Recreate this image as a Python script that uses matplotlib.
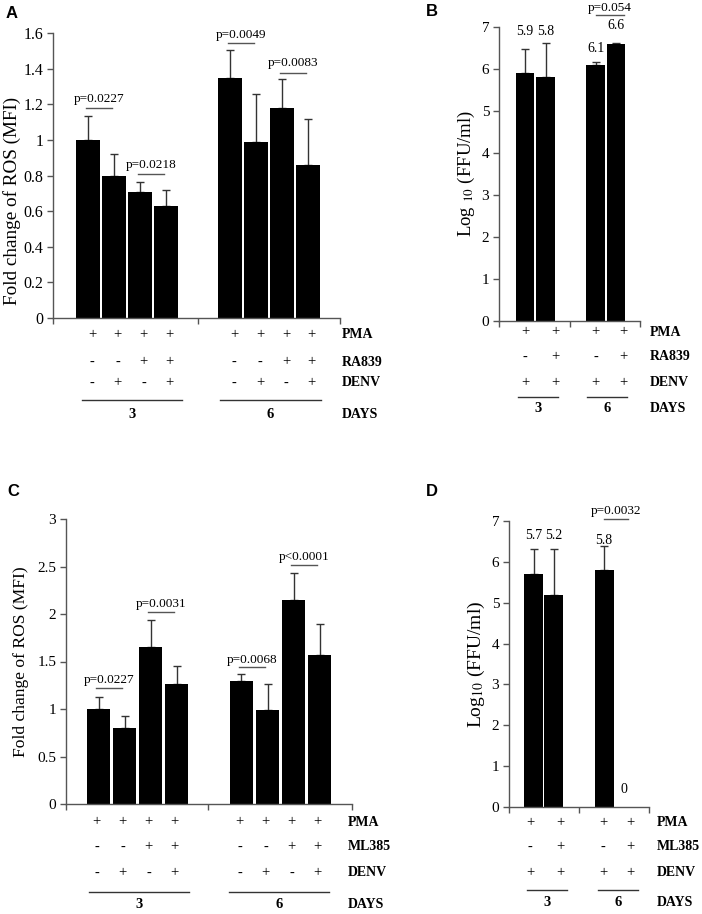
import matplotlib
matplotlib.use("Agg")
import matplotlib.pyplot as plt
from matplotlib.transforms import blended_transform_factory

W, H = 702, 914

plt.rcParams['font.family'] = ['Liberation Serif', 'DejaVu Serif']
plt.rcParams['mathtext.fontset'] = 'stix'

# ---------------- data ----------------
# A: ROS fold change, PMA / RA839 / DENV
ros_ra = [1.00, 0.80, 0.71, 0.63, 1.35, 0.99, 1.18, 0.86]
ros_ra_err = [0.135, 0.12, 0.055, 0.09, 0.155, 0.27, 0.16, 0.26]
ros_ra_p = ["p=0.0227", "p=0.0218", "p=0.0049", "p=0.0083"]
ros_ra_pairs = [(0, 1), (2, 3), (4, 5), (6, 7)]

# B: virus titre, RA839
titre_ra = [5.9, 5.8, 6.1, 6.6]
titre_ra_err = [0.58, 0.83, 0.07, 0.02]
titre_ra_labels = ["5.9", "5.8", "6.1", "6.6"]
titre_ra_p = ["p=0.054"]
titre_ra_pairs = [(2, 3)]

# C: ROS fold change, PMA / ML385 / DENV
ros_ml = [1.00, 0.80, 1.65, 1.26, 1.30, 0.99, 2.15, 1.57]
ros_ml_err = [0.13, 0.125, 0.29, 0.19, 0.07, 0.27, 0.28, 0.33]
ros_ml_p = ["p=0.0227", "p=0.0031", "p=0.0068", "p<0.0001"]
ros_ml_pairs = [(0, 1), (2, 3), (4, 5), (6, 7)]

# D: virus titre, ML385
titre_ml = [5.7, 5.2, 5.8, 0.0]
titre_ml_err = [0.61, 1.11, 0.59, 0.0]
titre_ml_labels = ["5.7", "5.2", "5.8", "0"]
titre_ml_p = ["p=0.0032"]
titre_ml_pairs = [(2, 3)]

# treatment tables
pma_4 = ["+", "+", "+", "+", "+", "+", "+", "+"]
drug_4 = ["-", "-", "+", "+", "-", "-", "+", "+"]
denv_4 = ["-", "+", "-", "+", "-", "+", "-", "+"]
pma_2 = ["+", "+", "+", "+"]
drug_2 = ["-", "+", "-", "+"]
denv_2 = ["+", "+", "+", "+"]
days = ["3", "6"]

fig = plt.figure(figsize=(W / 100, H / 100), dpi=100)


def px_rect(l, r, t, b):
    return [l / W, 1 - b / H, (r - l) / W, (b - t) / H]


def fig_y(py):
    return 1 - py / H


def make_axes(box, xlim, mid, ylim, yticks, tick_size):
    ax = fig.add_axes(px_rect(*box))
    for s in ("top", "right"):
        ax.spines[s].set_visible(False)
    for s in ("left", "bottom"):
        ax.spines[s].set_color("#555555")
        ax.spines[s].set_linewidth(1)
    ax.set_xlim(*xlim)
    ax.set_ylim(*ylim)
    ax.set_xticks([xlim[0], mid, xlim[1]])
    ax.set_xticklabels([])
    ax.set_yticks(yticks)
    ax.set_yticklabels(["%g" % round(v, 2) for v in yticks])
    ax.tick_params(direction="out", length=4, width=1, color="#555555",
                   labelsize=tick_size, pad=3)
    return ax


def draw_bars(ax, pos, vals, errs, width):
    ax.bar(pos, vals, width, color="black", zorder=2)
    # no error bar where there is nothing to show (e.g. titre of 0)
    keep = [k for k, e in enumerate(errs) if e > 0]
    ax.errorbar([pos[k] for k in keep], [vals[k] for k in keep],
                yerr=[[0] * len(keep), [errs[k] for k in keep]], fmt="none",
                ecolor="#333333", elinewidth=1, capsize=3, capthick=1, zorder=1)


def draw_pvals(ax, pos, pairs, texts, line_y, text_y, dx0, dx1):
    for (i, j), t, ly, ty in zip(pairs, texts, line_y, text_y):
        x0, x1 = pos[i] + dx0, pos[j] + dx1
        ax.plot([x0, x1], [ly, ly], color="#555555", lw=1, clip_on=False)
        ax.text((x0 + x1) / 2, ty, t, ha="center", va="center", fontsize=9.5,
                clip_on=False)


def draw_table(ax, cols, rows, names, row_py, label_x, centers, half,
               line_py, days_py):
    tdata = blended_transform_factory(ax.transData, fig.transFigure)
    taxes = blended_transform_factory(ax.transAxes, fig.transFigure)
    for signs, name, py in zip(rows, names, row_py):
        for x, s in zip(cols, signs):
            ax.text(x, fig_y(py), s, transform=tdata, ha="center", va="center",
                    fontsize=10.5)
        ax.text(label_x, fig_y(py), name, transform=taxes, ha="left",
                va="center", fontsize=10, fontweight="bold")
    for c, d in zip(centers, days):
        ax.plot([c - half, c + half], [fig_y(line_py)] * 2, transform=tdata,
                color="#333333", lw=1, clip_on=False)
        ax.text(c, fig_y(days_py), d, transform=tdata, ha="center", va="center",
                fontsize=10.5, fontweight="bold")
    ax.text(label_x, fig_y(days_py), "DAYS", transform=taxes, ha="left",
            va="center", fontsize=10, fontweight="bold")


def panel_letter(px, py, s):
    fig.text(px / W, fig_y(py), s, ha="center", va="center", fontsize=12,
             fontweight="bold", family="Liberation Sans")


# ---------------- panel A ----------------
pos8 = [0, 1, 2, 3, 5.5, 6.5, 7.5, 8.5]
axA = make_axes((53, 340, 33, 318), (-1.36, 9.74), 4.26, (0, 1.6),
                [0, 0.2, 0.4, 0.6, 0.8, 1.0, 1.2, 1.4, 1.6], 11.5)
draw_bars(axA, pos8, ros_ra, ros_ra_err, 0.92)
draw_pvals(axA, pos8, ros_ra_pairs, ros_ra_p, [1.18, 0.81, 1.545, 1.373],
           [1.23, 0.86, 1.59, 1.43], -0.08, -0.08)
axA.set_ylabel("Fold change of ROS (MFI)", fontsize=13.8, va="center")
axA.yaxis.set_label_coords(-0.143, 0.41)
draw_table(axA, [p + 0.15 for p in pos8], [pma_4, drug_4, denv_4],
           ["PMA", "RA839", "DENV"], [335, 362, 383], 1.007, [1.7, 7.05],
           1.94, 400, 414)
panel_letter(12, 14, "A")

# ---------------- panel B ----------------
pos4B = [0, 1, 3.44, 4.44]
axB = make_axes((499, 640, 27, 321), (-1.27, 5.61), 2.2, (0, 7), range(8), 11)
draw_bars(axB, pos4B, titre_ra, titre_ra_err, 0.9)
for x, lab, y in zip(pos4B, titre_ra_labels, [6.9, 6.9, 6.48, 7.04]):
    axB.text(x, y, lab, ha="center", va="center", fontsize=10, clip_on=False)
draw_pvals(axB, pos4B, titre_ra_pairs, titre_ra_p, [7.28], [7.46], 0, 0.4)
axB.set_ylabel(r"Log $_{10}$ (FFU/ml)", fontsize=13.5, va="center")
axB.yaxis.set_label_coords(-0.234, 0.5)
draw_table(axB, [0, 1.46, 3.44, 4.78], [pma_2, drug_2, denv_2],
           ["PMA", "RA839", "DENV"], [332, 357, 383], 1.07, [0.63, 4.0],
           0.98, 397, 409)
panel_letter(432, 12, "B")

# ---------------- panel C ----------------
axC = make_axes((66, 352, 519, 804), (-1.25, 9.75), 4.21, (0, 3),
                [0, 0.5, 1, 1.5, 2, 2.5, 3], 11)
draw_bars(axC, pos8, ros_ml, ros_ml_err, 0.92)
draw_pvals(axC, pos8, ros_ml_pairs, ros_ml_p, [1.22, 2.02, 1.44, 2.52],
           [1.30, 2.10, 1.52, 2.60], -0.08, -0.08)
axC.set_ylabel("Fold change of ROS (MFI)", fontsize=12.6, va="center")
axC.yaxis.set_label_coords(-0.157, 0.5)
draw_table(axC, [p - 0.08 for p in pos8], [pma_4, drug_4, denv_4],
           ["PMA", "ML385", "DENV"], [822, 847, 873], 0.986, [1.56, 6.94],
           1.92, 892, 904)
panel_letter(13, 492, "C")

# ---------------- panel D ----------------
pos4D = [0, 1, 3.53, 4.53]
axD = make_axes((509, 649, 521, 807), (-1.23, 5.78), 2.28, (0, 7), range(8), 11)
draw_bars(axD, pos4D, titre_ml, titre_ml_err, 0.95)
for x, lab, y in zip(pos4D, titre_ml_labels, [6.65, 6.65, 6.53, 0.42]):
    axD.text(x, y, lab, ha="center", va="center", fontsize=10, clip_on=False)
draw_pvals(axD, pos4D, titre_ml_pairs, titre_ml_p, [7.06], [7.25], 0, 0.2)
axD.set_ylabel(r"Log$_{10}$ (FFU/ml)", fontsize=14, va="center")
axD.yaxis.set_label_coords(-0.236, 0.5)
draw_table(axD, [-0.18, 1.33, 3.48, 4.83], [pma_2, drug_2, denv_2],
           ["PMA", "ML385", "DENV"], [823, 847, 873], 1.057, [0.68, 4.23],
           1.0, 890, 902)
panel_letter(432, 491, "D")

fig.savefig("out.png", dpi=100)
